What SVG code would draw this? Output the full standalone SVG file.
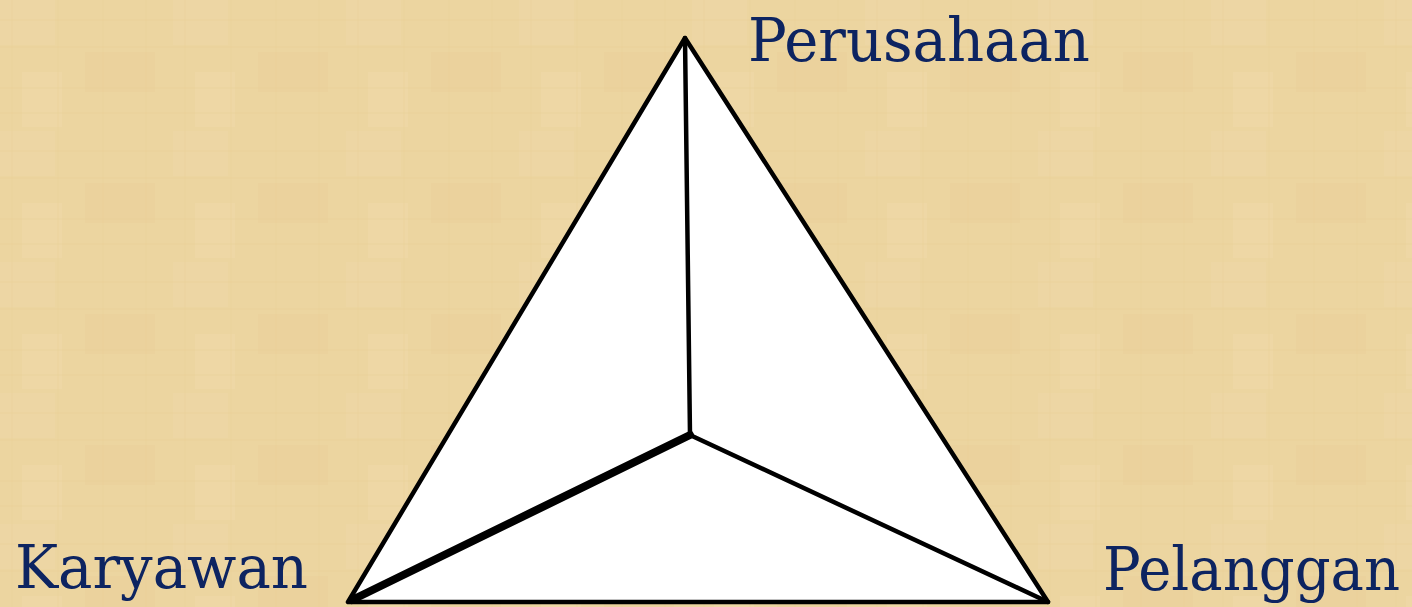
<svg xmlns="http://www.w3.org/2000/svg" width="1412" height="607" viewBox="0 0 1412 607">
<defs>
<pattern id="tex" x="0" y="0" width="173" height="131" patternUnits="userSpaceOnUse">
<rect width="173" height="131" fill="#ecd5a0"/>
<rect x="0" y="0" width="55" height="45" fill="#eed8a5" opacity="0.7"/>
<rect x="85" y="52" width="70" height="40" fill="#e9d099" opacity="0.5"/>
<rect x="22" y="72" width="40" height="55" fill="#efdaa9" opacity="0.5"/>
<path d="M0 20H173M0 47H173M0 88H173M0 113H173" stroke="#e6cc94" stroke-width="1.5" opacity="0.35"/>
<path d="M12 0V131M58 0V131M103 0V131M146 0V131" stroke="#e6cc94" stroke-width="1.5" opacity="0.3"/>
</pattern>
<style>
.lbl{font-family:"DejaVu Serif","Liberation Serif",serif;font-size:60px;fill:#0d2461}
.edge{stroke:#000;fill:none;stroke-linejoin:round;stroke-linecap:round}
</style>
</defs>
<rect width="1412" height="607" fill="url(#tex)"/>
<g id="triangle">
<polygon points="685,38 348,602 1048,602" fill="#fff" stroke="#000" stroke-width="4.5" stroke-linejoin="round"/>
</g>
<g id="connectors">
<line class="edge" x1="685" y1="38" x2="690" y2="435" stroke-width="4.5"/>
<line class="edge" x1="690" y1="435" x2="352" y2="600" stroke-width="8"/>
<line class="edge" x1="690" y1="435" x2="1048" y2="602" stroke-width="4.5"/>
</g>
<g id="node-perusahaan"><text class="lbl" x="748" y="61" textLength="342" lengthAdjust="spacingAndGlyphs">Perusahaan</text></g>
<g id="node-karyawan"><text class="lbl" x="15" y="588" textLength="293" lengthAdjust="spacingAndGlyphs">Karyawan</text></g>
<g id="node-pelanggan"><text class="lbl" x="1103" y="590" textLength="297" lengthAdjust="spacingAndGlyphs">Pelanggan</text></g>
</svg>
